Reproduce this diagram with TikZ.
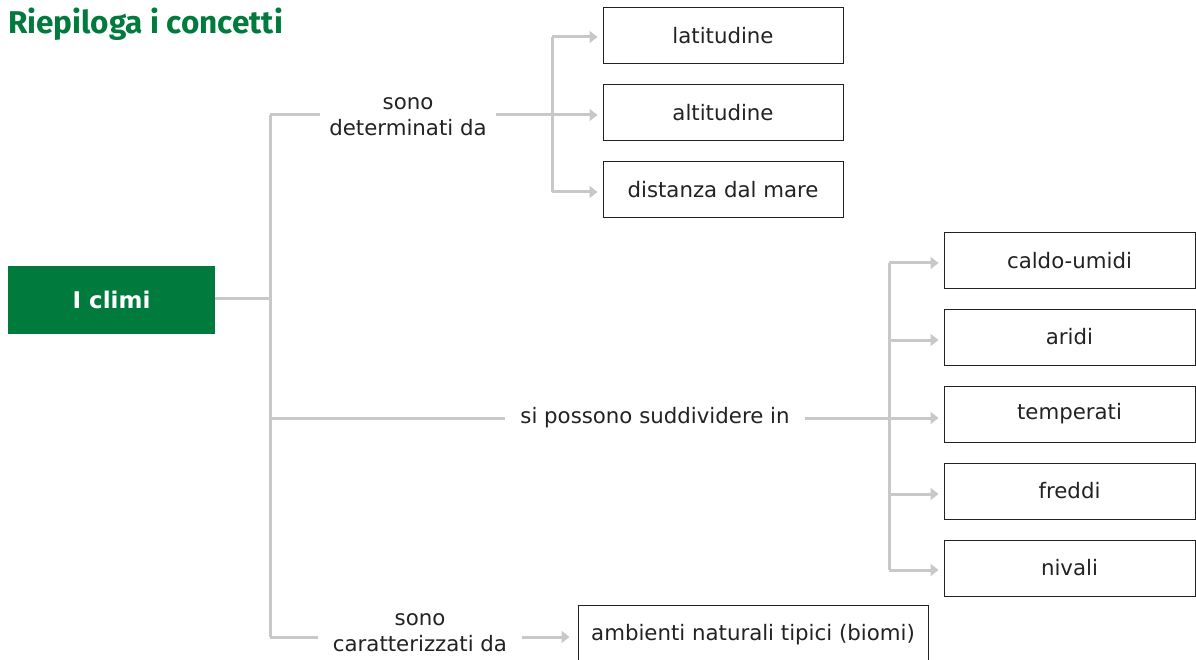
\documentclass[tikz,border=0pt]{standalone}
\usepackage{fontspec}
\setmainfont{DejaVu Sans}
\newfontfamily\titlefont{Fira Sans}
\usetikzlibrary{arrows.meta}
\definecolor{mygreen}{HTML}{007A3D}
\definecolor{conngray}{HTML}{C8C8C8}
\definecolor{txt}{HTML}{222222}
\tikzset{
  conn/.style={draw=conngray, line width=3pt},
  arr/.style={conn, -{Triangle[length=8pt,width=12pt]}, shorten >=5pt},
  cbox/.style={draw=txt, line width=1pt, minimum height=56pt, inner sep=0pt, text=txt, font=\fontsize{21.3}{26}\selectfont},
  lbl/.style={text=txt, font=\fontsize{21.3}{26}\selectfont, align=center, inner ysep=2pt}
}
\begin{document}
\begin{tikzpicture}[x=1pt,y=-1pt]
\useasboundingbox (0,0) rectangle (1196,660);
\clip (0,0) rectangle (1196,660);
% title
\node[anchor=base west, inner sep=0pt, text=mygreen, font=\titlefont\bfseries\fontsize{31.5}{34}\selectfont] (title) at (8,34) {Riepiloga i concetti};
% main box
\node[fill=mygreen, minimum width=207pt, minimum height=68pt, inner sep=0pt, text=white, font=\bfseries\fontsize{23}{26}\selectfont] (clima) at (111.5,300) {I climi};
% boxes
\node[cbox, minimum width=240pt] (lat) at (723,36) {latitudine};
\node[cbox, minimum width=240pt] (alt) at (723,113) {altitudine};
\node[cbox, minimum width=240pt] (dist) at (723,190) {distanza dal mare};
\node[cbox, minimum width=251pt] (cu) at (1069.5,260.5) {caldo-umidi};
\node[cbox, minimum width=251pt] (ar) at (1069.5,337) {aridi};
\node[cbox, minimum width=251pt] (te) at (1069.5,414) {temperati};
\node[cbox, minimum width=251pt] (fr) at (1069.5,491) {freddi};
\node[cbox, minimum width=251pt] (ni) at (1069.5,568) {nivali};
\node[cbox, minimum width=350pt, minimum height=66pt, anchor=north] (bio) at (753,605) {\raisebox{12pt}{ambienti naturali tipici (biomi)}};
% labels
\node[lbl, inner xsep=9pt] (det) at (408,117) {sono\\determinati da};
\node[lbl, inner xsep=15pt] (sub) at (655,418) {si possono suddividere in};
\node[lbl, inner xsep=15pt] (car) at (420,633) {sono\\caratterizzati da};
% junctions
\coordinate (v1) at (270,115);
\coordinate (v3) at (270,637);
\coordinate (j1a) at (552,37);
\coordinate (j1b) at (552,192);
\coordinate (j2a) at (889,263);
\coordinate (j2b) at (889,570);
% trunk
\draw[conn] (v1) -- (v3);
\draw[conn] (clima.east |- 0,298) -- (v1 |- 0,298);
% branch 1
\draw[conn] (v1) -- (v1 -| det.west);
\draw[conn] (j1a) -- (j1b);
\draw[arr] (det.east |- v1) -- (alt.west |- v1);
\draw[arr] (j1a) -- (lat.west |- j1a);
\draw[arr] (j1b) -- (dist.west |- j1b);
% branch 2
\draw[conn] (v1 |- 0,418) -- (sub.west |- 0,418);
\draw[conn] (j2a) -- (j2b);
\draw[arr] (sub.east |- 0,418) -- (te.west |- 0,418);
\draw[arr] (j2a) -- (cu.west |- j2a);
\draw[arr] (j2a |- 0,340) -- (ar.west |- 0,340);
\draw[arr] (j2a |- 0,494) -- (fr.west |- 0,494);
\draw[arr] (j2b) -- (ni.west |- j2b);
% branch 3
\draw[conn] (v3) -- (v3 -| car.west);
\draw[arr, shorten >=8pt] (car.east |- v3) -- (bio.west |- v3);
\end{tikzpicture}
\end{document}
